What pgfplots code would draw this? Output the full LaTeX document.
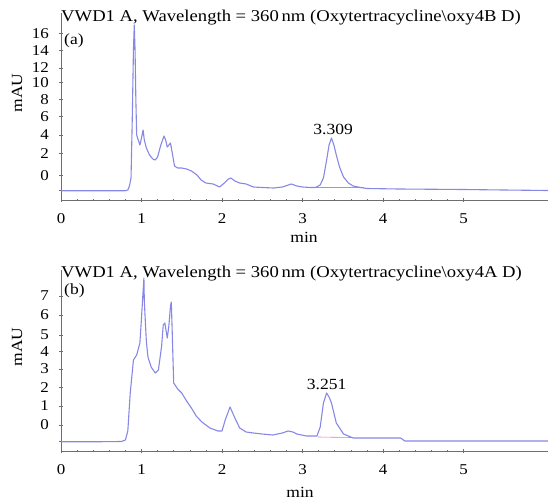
\documentclass[border=0pt]{standalone}
\usepackage{fontspec}
\setmainfont{Liberation Serif}[FakeStretch=1.13]
\usepackage{pgfplots}
\pgfplotsset{compat=1.18}
\definecolor{trace}{RGB}{135,135,230}
\definecolor{basel}{RGB}{235,120,160}
\definecolor{axisgray}{RGB}{110,110,110}

\pgfplotstableread{
x h
0 9.3
0.5 9.3
0.80 9.3
0.83 10
0.85 14
0.87 22
0.885 80
0.90 150
0.91 175
0.92 150
0.93 100
0.94 65
0.96 60
0.98 55
1.00 62
1.02 70
1.035 60
1.06 52
1.10 45
1.14 41
1.17 40
1.20 43
1.24 55
1.28 64
1.30 60
1.32 53
1.34 55
1.36 57
1.38 48
1.41 34
1.45 32
1.50 32
1.56 31
1.62 29
1.69 25
1.74 20
1.80 17
1.89 16
1.97 13
2.03 17
2.08 21
2.11 22
2.16 19
2.22 17
2.30 16
2.39 13
2.50 12.5
2.64 12
2.75 13
2.86 16
2.93 14
3.00 13
3.10 12.5
3.16 12.5
3.22 15
3.26 22
3.30 40
3.33 55
3.36 62
3.39 55
3.42 45
3.46 33
3.51 23
3.57 17
3.63 14
3.72 12.5
3.80 11.5
4.2 11
5.0 10.5
5.5 10
6.05 9.5
}\dataA

\pgfplotstableread{
x h
0 9.3
0.5 9.3
0.75 9.5
0.80 11
0.83 20
0.86 58
0.90 91
0.94 96
0.98 108
1.00 133
1.02 160
1.03 173
1.035 150
1.045 134
1.06 110
1.08 94
1.12 84
1.17 78
1.21 81
1.25 105
1.27 126
1.29 128
1.31 118
1.32 113
1.34 125
1.36 145
1.37 149
1.38 124
1.39 95
1.40 68
1.45 62
1.50 58
1.56 50
1.62 43
1.68 35
1.75 29
1.85 23
1.95 20
2.00 20
2.04 31
2.10 44
2.16 33
2.22 23
2.30 19
2.39 18
2.50 17
2.63 16
2.75 18
2.82 20
2.88 19
2.93 17
3.05 15
3.18 15
3.22 24
3.26 48
3.30 58
3.33 54
3.36 48
3.42 28
3.51 17
3.63 13
4.0 13
4.22 13
4.27 10
5.0 10
6.05 10
}\dataB

\pgfplotsset{
  chrom/.style={
    scale only axis,
    width=487bp,
    xmin=0, xmax=6.05, ymin=0,
    axis x line=bottom, axis y line=left,
    axis line style={-, axisgray, line width=0.8bp},
    tick style={axisgray, line width=0.5bp},
    tick align=center,
    major tick length=4bp,
    minor tick length=2.5bp,
    xtick={0,1,2,3,4,5},
    minor x tick num=4,
    minor y tick num=2,
    /pgf/number format/assume math mode=true,
    tick label style={font=\fontsize{15bp}{17bp}\selectfont, inner sep=0pt},
    yticklabel style={xshift=-10bp},
    xticklabel style={yshift=-11.5bp},
    clip=false,
  }
}

\begin{document}
\begin{tikzpicture}
\path[use as bounding box] (0,0) rectangle (548bp,-502bp);

% panel (a)
\begin{axis}[chrom, height=187bp, ymax=187,
  at={(61bp,-200bp)}, anchor=south west,
  ytick={9.3,24.3,46.7,65,83.3,100.7,117.5,132,149.3,166.7},
  yticklabels={,0,2,4,6,8,10,12,14,16}]
\addplot[basel, line width=0.6bp] coordinates {(3.16,12.3) (3.76,12.3)};
\addplot[trace, line width=1.1bp, line join=round] table[x=x,y=h] {\dataA};
\node[font=\fontsize{15.5bp}{18bp}\selectfont] at (axis cs:3.38,71) {3.309};
\end{axis}

% panel (b)
\begin{axis}[chrom, height=181bp, ymax=181,
  at={(61bp,-451bp)}, anchor=south west,
  ytick={9.3,26,45,63.3,82,99.3,116,136,155},
  yticklabels={,0,1,2,3,4,5,6,7}]
\addplot[basel, line width=0.6bp] coordinates {(3.19,14) (3.62,13.5)};
\addplot[trace, line width=1.1bp, line join=round] table[x=x,y=h] {\dataB};
\node[font=\fontsize{15.5bp}{18bp}\selectfont] at (axis cs:3.30,67) {3.251};
\end{axis}

% titles and labels
\node[anchor=base west, inner sep=0pt, font=\fontsize{16.5bp}{19bp}\selectfont] at (61bp,-21.5bp) {VWD1 A, Wavelength = 360\,nm (Oxytertracycline\textbackslash oxy4B D)};
\node[anchor=base west, inner sep=0pt, font=\fontsize{16.5bp}{19bp}\selectfont] at (61bp,-277bp) {VWD1 A, Wavelength = 360\,nm (Oxytertracycline\textbackslash oxy4A D)};
\node[anchor=west, inner sep=0pt, font=\fontsize{15.5bp}{18bp}\selectfont] at (64bp,-41bp) {(a)};
\node[anchor=west, inner sep=0pt, font=\fontsize{15.5bp}{18bp}\selectfont] at (64bp,-291bp) {(b)};
\node[rotate=90, inner sep=0pt, font=\fontsize{15.5bp}{18bp}\selectfont] at (17bp,-93bp) {mAU};
\node[rotate=90, inner sep=0pt, font=\fontsize{15.5bp}{18bp}\selectfont] at (17bp,-347bp) {mAU};
\node[font=\fontsize{15.5bp}{18bp}\selectfont] at (304bp,-237bp) {min};
\node[font=\fontsize{15.5bp}{18bp}\selectfont] at (300bp,-492bp) {min};
\end{tikzpicture}
\end{document}
